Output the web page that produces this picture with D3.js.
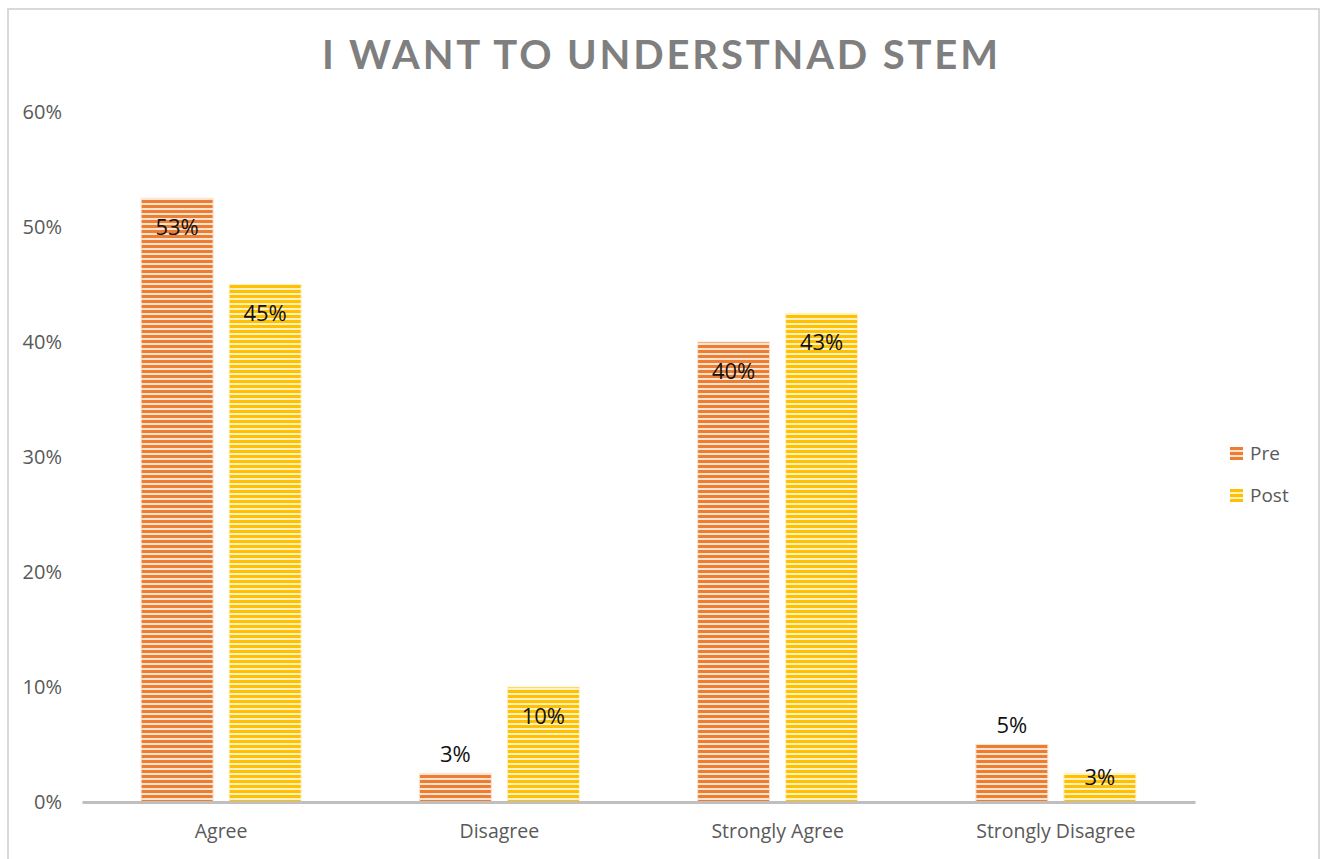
<!DOCTYPE html>
<html>
<head>
<meta charset="utf-8">
<script src="https://cdn.jsdelivr.net/npm/d3@7"></script>
<style>
  html, body { margin: 0; padding: 0; background: #fff; }
  svg { display: block; }
</style>
</head>
<body>
<svg id="chart" width="1321" height="859"></svg>
<script>
// Survey responses: "I want to understand STEM"
const categories = ["Agree", "Disagree", "Strongly Agree", "Strongly Disagree"];
const seriesNames = ["Pre", "Post"];
const preValues = [52.5, 2.5, 40, 5];
const postValues = [45, 10, 42.5, 2.5];
const yTicks = [0, 10, 20, 30, 40, 50, 60];
// where each data label sits relative to its bar
const preLabelPlacement = ["inside", "outside", "inside", "outside"];
const postLabelPlacement = ["inside", "inside", "inside", "top"];

const svg = d3.select("#chart");
const plot = { left: 82, right: 1195, top: 112, bottom: 802 };
const FONT = "'Open Sans', Lato, sans-serif";

// striped fills
const defs = svg.append("defs");
const palette = {
  Pre: { dark: "#ED7D31", light: "#FBE3D2" },
  Post: { dark: "#FFC000", light: "#FFF1C4" }
};
seriesNames.forEach(name => {
  const p = defs.append("pattern")
    .attr("id", "stripe-" + name)
    .attr("patternUnits", "userSpaceOnUse")
    .attr("width", 8).attr("height", 5);
  p.append("rect").attr("width", 8).attr("height", 5).attr("fill", palette[name].light);
  p.append("rect").attr("y", 0).attr("width", 8).attr("height", 3).attr("fill", palette[name].dark);
});

// chart frame
svg.append("rect")
  .attr("x", 8).attr("y", 9).attr("width", 1311).attr("height", 870)
  .attr("fill", "#fff").attr("stroke", "#d9d9d9").attr("stroke-width", 2);

// title
svg.append("text")
  .attr("x", 660).attr("y", 69)
  .attr("text-anchor", "middle")
  .attr("font-family", "Lato, 'Open Sans', sans-serif")
  .attr("font-weight", "bold")
  .attr("font-size", 40)
  .attr("fill", "#7f7f7f")
  .attr("textLength", 676)
  .attr("lengthAdjust", "spacing")
  .text("I WANT TO UNDERSTNAD STEM");

const y = d3.scaleLinear().domain([0, 60]).range([plot.bottom, plot.top]);
const x0 = d3.scaleBand().domain(categories).range([plot.left, plot.right])
  .paddingInner(0).paddingOuter(0);
const x1 = d3.scaleBand().domain(seriesNames).range([0, x0.bandwidth()])
  .paddingInner(0.182).paddingOuter(0.672);

// y axis labels (no line, no ticks)
const yAxis = d3.axisLeft(y).tickValues(yTicks).tickFormat(d => d + "%").tickSize(0).tickPadding(0);
const yg = svg.append("g").attr("transform", `translate(62,0)`).call(yAxis);
yg.select(".domain").remove();
yg.selectAll("text")
  .attr("font-family", FONT).attr("font-size", 20).attr("fill", "#595959");

// bars
const rows = categories.map((c, i) => ({
  category: c,
  values: [
    { series: "Pre", value: preValues[i], placement: preLabelPlacement[i] },
    { series: "Post", value: postValues[i], placement: postLabelPlacement[i] }
  ]
}));

const groups = svg.append("g").selectAll("g").data(rows).join("g")
  .attr("transform", d => `translate(${x0(d.category)},0)`);

groups.selectAll("rect").data(d => d.values).join("rect")
  .attr("x", d => x1(d.series))
  .attr("y", d => y(d.value))
  .attr("width", x1.bandwidth())
  .attr("height", d => y(0) - y(d.value))
  .attr("fill", d => `url(#stripe-${d.series})`)
  .attr("stroke", d => palette[d.series].light)
  .attr("stroke-width", 1);

// x axis line and category labels
const xAxis = d3.axisBottom(x0).tickSize(0).tickPadding(22);
const xg = svg.append("g").attr("transform", `translate(0,${plot.bottom})`).call(xAxis);
xg.select(".domain").attr("stroke", "#bfbfbf").attr("stroke-width", 3);
xg.selectAll("text")
  .attr("font-family", FONT).attr("font-size", 19.5).attr("fill", "#595959");

// data labels
const labelOffset = { inside: 29, outside: -19, top: 4 };
groups.selectAll("text.val").data(d => d.values).join("text")
  .attr("class", "val")
  .attr("x", d => x1(d.series) + x1.bandwidth() / 2)
  .attr("y", d => y(d.value) + labelOffset[d.placement])
  .attr("dy", "0.35em")
  .attr("text-anchor", "middle")
  .attr("font-family", FONT).attr("font-size", 22).attr("fill", "#111")
  .text(d => Math.round(d.value) + "%");

// legend
const legend = svg.append("g").selectAll("g").data(seriesNames).join("g")
  .attr("transform", (d, i) => `translate(1230,${447 + i * 42})`);
legend.append("rect")
  .attr("width", 13).attr("height", 13)
  .attr("fill", d => `url(#stripe-${d})`);
legend.append("text")
  .attr("x", 20).attr("y", 6.5).attr("dy", "0.35em")
  .attr("font-family", FONT).attr("font-size", 19).attr("fill", "#595959")
  .text(d => d);
</script>
</body>
</html>
